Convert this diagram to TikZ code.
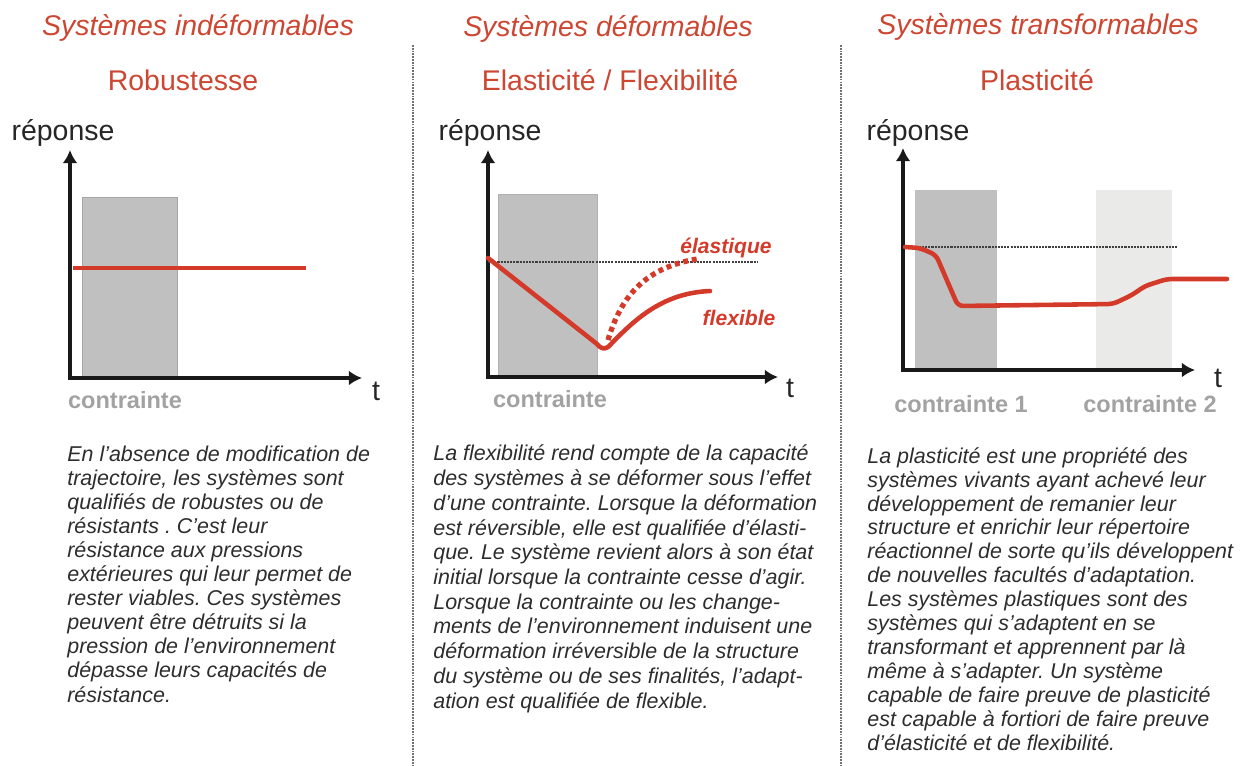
\documentclass[tikz,border=0pt]{standalone}
\usepackage{fontspec}
\setmainfont{Liberation Sans}
\usetikzlibrary{arrows.meta}
\frenchspacing

\definecolor{zred}{RGB}{204,70,50}
\definecolor{zline}{RGB}{212,58,42}
\definecolor{ztext}{RGB}{45,45,45}
\definecolor{zlabel}{RGB}{162,162,162}
\definecolor{zbox}{RGB}{192,192,192}
\definecolor{zboxlight}{RGB}{234,234,232}

\tikzset{ztitle/.style={
  zred,
  anchor=base,
  font=\fontsize{16.2}{19}\selectfont\itshape}}
\tikzset{zsub/.style={
  zred,
  anchor=base,
  font=\fontsize{16.2}{19}\selectfont}}
\tikzset{zaxis/.style={
  black!90,
  line width=2.2pt,
  line join=miter,
  {Latex[length=7.5pt,width=8.5pt]}-{Latex[length=7.5pt,width=8.5pt]}}}
\tikzset{zcurve/.style={
  zline,
  line width=2.6pt,
  line join=round,
  line cap=round}}
\tikzset{zpara/.style={
  ztext,
  anchor=base west,
  align=left,
  inner sep=0pt}}

\begin{document}
\begin{tikzpicture}[
  x=0.02cm,y=-0.02cm,
  zref/.style={
    black!75,
    line width=0.8pt,
    dash pattern=on 1.2pt off 0.6pt},
  zsep/.style={
    black!55,
    line width=1pt,
    dash pattern=on 1pt off 0.6pt},
  zcontr/.style={
    zlabel,
    anchor=base,
    font=\fontsize{13.4}{16}\selectfont\bfseries},
  zword/.style={
    anchor=base,
    black!85,
    font=\fontsize{16.2}{19}\selectfont}
]
  \useasboundingbox (0,0) rectangle (1243,765);

  %%%% Separators between the three columns %%%%
  \draw[zsep] (413,45) -- (413,765);
  \draw[zsep] (841,45) -- (841,765);

  %%%% Headings %%%%
  \node[ztitle] (title1) at (198,35) {Systèmes indéformables};
  \node[zsub] (sub1) at (183,90) {Robustesse};
  \node[ztitle] (title2) at (608,36) {Systèmes déformables};
  \node[zsub] (sub2) at (610,90) {Elasticité / Flexibilité};
  \node[ztitle] (title3) at (1038,34) {Systèmes transformables};
  \node[zsub] (sub3) at (1037,90) {Plasticité};

  %%%% Stress periods %%%%
  \draw[fill=zbox,draw=black!35] (82,197) rectangle (177,378);
  \draw[fill=zbox,draw=black!30] (498,194) rectangle (597,377);
  \draw[fill=zbox,draw=black!25] (915,190) rectangle (996,370);
  \fill[zboxlight] (1096,190) rectangle (1172,370);

  %%%% Axes %%%%
  \foreach \n/\ox/\oy/\top/\xe/\rx/\tx/\ty in {
      1/70/378/150/362/63/376/400,
      2/488/377/150/778/490/790/397,
      3/903/370/148/1195/918/1218/387}{
    \coordinate (o\n) at (\ox,\oy);
    \draw[zaxis] (\ox,\top) -- (o\n) -- (\xe,\oy);
    \node[zword] (rep\n) at (\rx,140) {réponse};
    \node[zword] (t\n) at (\tx,\ty) {t};
  }

  \node[zcontr] (c1) at (125,408) {contrainte};
  \node[zcontr] (c2) at (550,407) {contrainte};
  \node[zcontr] (c3a) at (961,412) {contrainte 1};
  \node[zcontr] (c3b) at (1150,412) {contrainte 2};

  %%%% Responses %%%%
  %% Robust
  \draw[zcurve,line cap=butt] (73,268) -- (306,268);

  %% Elastic / flexible
  \draw[zref] (488,262) -- (758,262);
  \draw[zcurve] (488,258) -- (597,344)
    .. controls (602,350) and (606,350) .. (611,344)
    .. controls (638,316) and (665,293) .. (710,291);
  \draw[zcurve,line width=3pt,line cap=butt,dash pattern=on 2.8pt off 2.2pt]
    (608,340) .. controls (620,300) and (642,268) .. (697,259);
  \node[anchor=base,zline,font=\fontsize{12}{14}\selectfont\bfseries\itshape] (elas) at (726,253) {élastique};
  \node[anchor=base,zline,font=\fontsize{12}{14}\selectfont\bfseries\itshape] (flex) at (739,325) {flexible};

  %% Plastic
  \draw[zref] (903,247) -- (1177,247);
  \draw[zcurve,rounded corners=3pt] (905,247) -- (920,248) -- (936,255)
    -- (958,306) -- (1113,304) -- (1132,295) -- (1145,286) -- (1167,279) -- (1227,279);

  %%%% Comments (anchored on the last line) %%%%
  \node[zpara,font=\fontsize{12.2}{13.7}\selectfont\itshape] (text1) at (67,702) {En l’absence de modification de\\
    trajectoire, les systèmes sont\\
    qualifiés de robustes ou de\\
    résistants . C’est leur\\
    résistance aux pressions\\
    extérieures qui leur permet de\\
    rester viables. Ces systèmes\\
    peuvent être détruits si la\\
    pression de l’environnement\\
    dépasse leurs capacités de\\
    résistance.};
  \node[zpara,font=\fontsize{12.2}{14.06}\selectfont\itshape] (text2) at (433,708) {La flexibilité rend compte de la capacité\\
    des systèmes à se déformer sous l’effet\\
    d’une contrainte. Lorsque la déformation\\
    est réversible, elle est qualifiée d’élasti-\\
    que. Le système revient alors à son état\\
    initial lorsque la contrainte cesse d’agir.\\
    Lorsque la contrainte ou les change-\\
    ments de l’environnement induisent une\\
    déformation irréversible de la structure\\
    du système ou de ses finalités, l’adapt-\\
    ation est qualifiée de flexible.};
  \node[zpara,font=\fontsize{12.2}{13.6}\selectfont\itshape] (text3) at (867,750) {La plasticité est une propriété des\\
    systèmes vivants ayant achevé leur\\
    développement de remanier leur\\
    structure et enrichir leur répertoire\\
    réactionnel de sorte qu’ils développent\\
    de nouvelles facultés d’adaptation.\\
    Les systèmes plastiques sont des\\
    systèmes qui s'adaptent en se\\
    transformant et apprennent par là\\
    même à s'adapter. Un système\\
    capable de faire preuve de plasticité\\
    est capable à fortiori de faire preuve\\
    d'élasticité et de flexibilité.};

\end{tikzpicture}
\end{document}
